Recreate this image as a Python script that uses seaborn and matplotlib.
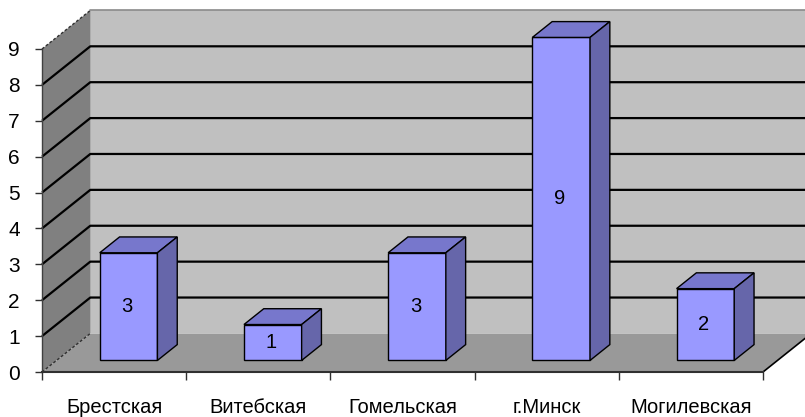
import matplotlib
matplotlib.use("Agg")
import matplotlib.pyplot as plt
import seaborn as sns
from matplotlib.patches import Polygon

# Number of entries per region
regions = ["Брестская", "Витебская", "Гомельская", "г.Минск", "Могилевская"]
counts = [3, 1, 3, 9, 2]
y_ticks = list(range(0, 10))

sns.set_theme(style="white")
plt.rcParams["font.family"] = ["Liberation Sans", "DejaVu Sans"]

W, H = 805, 417
fig = plt.figure(figsize=(W / 100, H / 100), dpi=100)
fig.patch.set_facecolor("white")
ax = fig.add_axes([42 / W, 45 / H, 721 / W, 323 / H])
ax.set_facecolor("none")

# oblique depth offset of the back wall, in data units
DX, DY = 0.335, 1.075
x0, x1 = -0.5, len(regions) - 0.5
ymax = y_ticks[-1]

# back wall, side wall and floor
ax.add_patch(Polygon([(x0 + DX, DY), (x1 + DX, DY), (x1 + DX, ymax + DY), (x0 + DX, ymax + DY)],
                     closed=True, fc="#c0c0c0", ec="none", clip_on=False, zorder=0))
ax.add_patch(Polygon([(x0, 0), (x0, ymax), (x0 + DX, ymax + DY), (x0 + DX, DY)],
                     closed=True, fc="#808080", ec="none", clip_on=False, zorder=0))
ax.add_patch(Polygon([(x0, 0), (x1, 0), (x1 + DX, DY), (x0 + DX, DY)],
                     closed=True, fc="#999999", ec="none", clip_on=False, zorder=0.6))

# gridlines wrapping the side wall and the back wall
for v in y_ticks[1:-1]:
    ax.plot([x0, x0 + DX, x1 + DX], [v, v + DY, v + DY], color="black", lw=1.6,
            clip_on=False, zorder=0.5, solid_capstyle="butt")
ax.plot([x0 + DX, x1 + DX], [ymax + DY] * 2, color="#8a8a8a", lw=1.2, clip_on=False, zorder=0.5)
for v in (0, ymax):
    ax.plot([x0, x0 + DX], [v, v + DY], color="#303030", lw=1.0, ls=(0, (2, 1.5)),
            clip_on=False, zorder=0.7)
ax.plot([x1, x1 + DX], [0, DY], color="black", lw=1.2, clip_on=False, zorder=0.7)

# front faces of the bars
sns.barplot(x=regions, y=counts, color="#9999ff", saturation=1, width=0.4,
            edgecolor="black", linewidth=1, ax=ax, zorder=3)

f0, bd = 0.30, 0.41  # depth position and thickness of the bars
for p, v in zip(ax.containers[0], counts):
    x = p.get_x() + f0 * DX
    y = f0 * DY
    w = p.get_width()
    h = p.get_height()
    p.set_x(x)
    p.set_y(y)
    p.set_clip_on(False)
    top = [(x, y + h), (x + w, y + h), (x + w + bd * DX, y + h + bd * DY), (x + bd * DX, y + h + bd * DY)]
    side = [(x + w, y), (x + w, y + h), (x + w + bd * DX, y + h + bd * DY), (x + w + bd * DX, y + bd * DY)]
    ax.add_patch(Polygon(top, closed=True, fc="#7777cc", ec="black", lw=1, clip_on=False, zorder=3))
    ax.add_patch(Polygon(side, closed=True, fc="#6666aa", ec="black", lw=1, clip_on=False, zorder=3))
    ax.text(x + w / 2 - 0.01, y + h / 2, str(v), ha="center", va="center", fontsize=14.5,
            color="black", zorder=4)

ax.set_xlim(x0, x1)
ax.set_ylim(0, ymax)
ax.set_yticks(y_ticks)
ax.set_yticklabels([str(t) for t in y_ticks])
ax.set_xticks(range(len(regions)))
ax.set_xticklabels(regions)
ax.set_xticks([x0 + i for i in range(len(regions) + 1)], minor=True)
ax.set_xlabel("")
ax.set_ylabel("")

ax.tick_params(axis="y", which="major", left=True, length=5, width=1, color="#303030",
               pad=11, labelsize=15, labelcolor="black")
ax.tick_params(axis="x", which="major", bottom=True, length=0, pad=19, labelsize=14.5,
               labelcolor="black")
ax.tick_params(axis="x", which="minor", bottom=True, length=6, width=1, color="#303030")

for side in ("top", "right"):
    ax.spines[side].set_visible(False)
ax.spines["left"].set_color("#404040")
ax.spines["left"].set_linewidth(1)
ax.spines["bottom"].set_color("#303030")
ax.spines["bottom"].set_linewidth(1.5)
ax.spines["left"].set_zorder(5)
ax.spines["bottom"].set_zorder(5)

fig.savefig("out.png", dpi=100)
